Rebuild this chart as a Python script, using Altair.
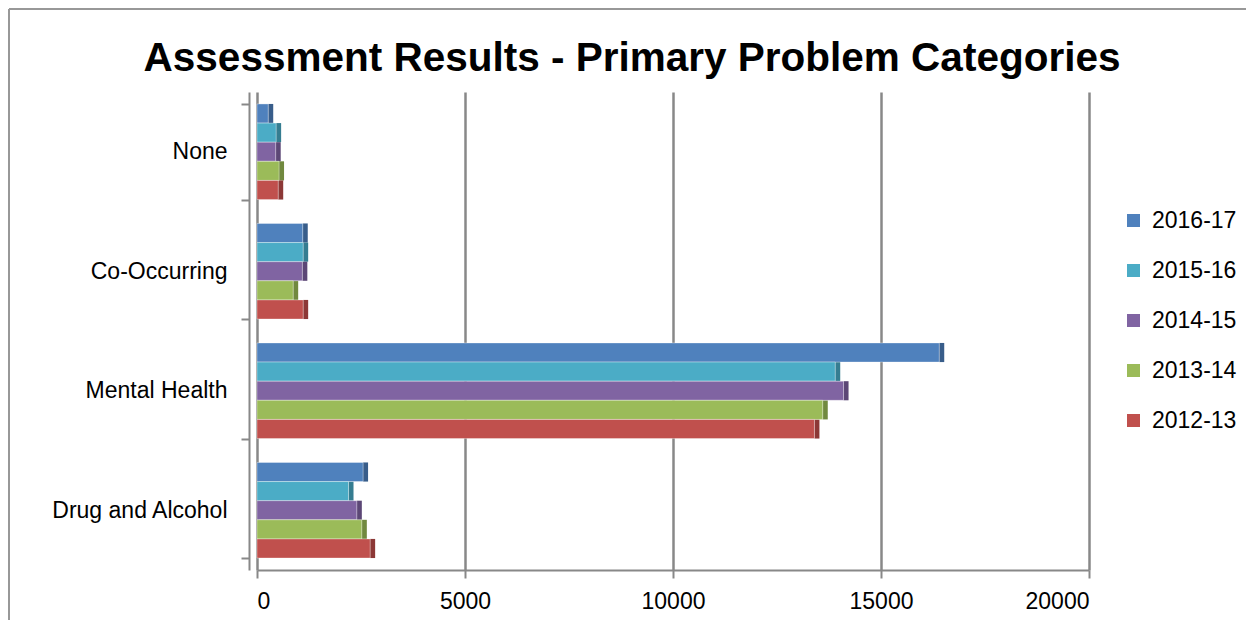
import altair as alt
import pandas as pd

categories = ["None", "Co-Occurring", "Mental Health", "Drug and Alcohol"]
years = ["2016-17", "2015-16", "2014-15", "2013-14", "2012-13"]
colors = ["#4F81BD", "#4BACC6", "#8064A2", "#9BBB59", "#C0504D"]
dark_colors = ["#385D8A", "#357D91", "#5C4776", "#71893F", "#8C3836"]

v_2016_17 = [270, 1100, 16400, 2550]
v_2015_16 = [460, 1110, 13900, 2200]
v_2014_15 = [450, 1090, 14100, 2400]
v_2013_14 = [530, 870, 13600, 2520]
v_2012_13 = [510, 1110, 13400, 2720]

series = [v_2016_17, v_2015_16, v_2014_15, v_2013_14, v_2012_13]
rows = []
for yr, vals in zip(years, series):
    for cat, v in zip(categories, vals):
        rows.append({"category": cat, "year": yr, "value": v})
df = pd.DataFrame(rows)

FONT = "Liberation Sans"

y_enc = alt.Y("category:N", sort=categories,
              scale=alt.Scale(paddingInner=0.2, paddingOuter=0.1),
              axis=alt.Axis(title=None, labelFontSize=23, labelFont=FONT, labelColor="#000",
                            labelPadding=14, tickBand="extent", tickSize=8, tickColor="#888",
                            tickWidth=2, domainColor="#888", domainWidth=2, offset=8,
                            grid=False))
x_enc = alt.X("value:Q", scale=alt.Scale(domain=[0, 20000], nice=False),
              axis=alt.Axis(title=None, values=[0, 5000, 10000, 15000, 20000], format="d",
                            labelFontSize=23, labelFont=FONT, labelColor="#000", labelPadding=12,
                            tickSize=8, tickColor="#888", tickWidth=2, domainColor="#888",
                            domainWidth=2, gridColor="#888", gridWidth=2.5, grid=True))
yoff = alt.YOffset("year:N", sort=years)

bars = alt.Chart(df).mark_bar(stroke="white", strokeOpacity=0.35, strokeWidth=1).encode(
    y=y_enc,
    x=x_enc,
    yOffset=yoff,
    color=alt.Color("year:N", sort=years,
                    scale=alt.Scale(domain=years, range=colors),
                    legend=alt.Legend(title=None, orient="none", legendX=865, legendY=117,
                                      symbolType="square", symbolSize=169, labelFontSize=23,
                                      labelFont=FONT, labelColor="#000", rowPadding=26,
                                      labelOffset=7, padding=0, symbolStrokeWidth=0)),
)

sides = alt.Chart(df).transform_calculate(
    end="datum.value + 120"
).mark_bar().encode(
    y=alt.Y("category:N", sort=categories),
    x=alt.X("value:Q"),
    x2="end:Q",
    yOffset=yoff,
    color=alt.Color("year:N", sort=years,
                    scale=alt.Scale(domain=years, range=dark_colors),
                    legend=None),
)

border = alt.Chart(df).mark_rule(color="#999", strokeWidth=1.5).encode(
    x=alt.value(-248), y=alt.value(-83), y2=alt.value(540))
border_top = alt.Chart(df).mark_rule(color="#999", strokeWidth=1.5).encode(
    x=alt.value(-248), x2=alt.value(990), y=alt.value(-83))

chart = alt.layer(border, border_top, sides, bars).resolve_scale(color="independent").properties(
    width=832, height=478,
    padding={"left": 249, "top": 84, "right": 157, "bottom": 50},
    autosize=alt.AutoSizeParams(type="none"),
    background="white",
    title=alt.TitleParams("Assessment Results - Primary Problem Categories",
                          font=FONT, fontSize=40.5, fontWeight="bold", color="#000",
                          anchor="middle", frame="group", dx=-41, offset=-103,
                          baseline="alphabetic"),
).configure_view(stroke=None)

chart.save("out.html", embed_options={"renderer": "svg", "actions": False})
